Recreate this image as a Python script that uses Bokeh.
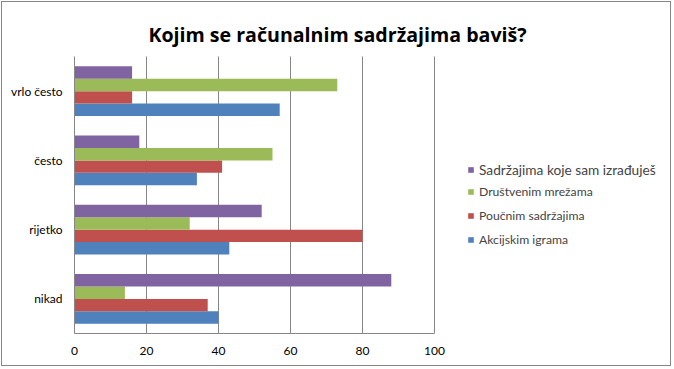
from bokeh.plotting import figure
from bokeh.models import (Range1d, Legend, LegendItem, Label, Grid,
                          FixedTicker, ColumnDataSource)
from bokeh.transform import dodge
from bokeh.embed import file_html
from bokeh.resources import INLINE

categories = ["nikad", "rijetko", "često", "vrlo često"]
akcijskim_igrama = [40, 43, 34, 57]
poucnim_sadrzajima = [37, 80, 41, 16]
drustvenim_mrezama = [14, 32, 55, 73]
sadrzajima_izradujes = [88, 52, 18, 16]
series_names = ["Akcijskim igrama", "Poučnim sadržajima", "Društvenim mrežama",
                "Sadržajima koje sam izrađuješ"]
x_ticks = [0, 20, 40, 60, 80, 100]
title_text = "Kojim se računalnim sadržajima baviš?"

colors = ["#4F81BD", "#C0504D", "#9BBB59", "#8064A2"]
offsets = [-0.27, -0.09, 0.09, 0.27]
FONT = "Lato"
GRAY = "#868686"

n = len(categories)
ypos = [i + 0.5 for i in range(n)]
src = ColumnDataSource(dict(y=ypos, s0=akcijskim_igrama, s1=poucnim_sadrzajima,
                            s2=drustvenim_mrezama, s3=sadrzajima_izradujes))

# frame: page x 74..672, page y 2..333 ; 3.6 px per unit, 69.25 px per category
p = figure(width=670, height=365, x_range=Range1d(0, 598 / 3.6),
           y_range=Range1d(0, 331 / 69.25), output_backend="svg",
           toolbar_location=None, min_border_left=72, min_border_right=0,
           min_border_top=0, min_border_bottom=34)
p.styles = {"border": "1px solid " + GRAY, "margin": "1px"}

renderers = []
for i in range(4):
    r = p.hbar(y=dodge("y", offsets[i]), right="s%d" % i, left=0,
               height=0.18, source=src, fill_color=colors[i], line_color=None)
    renderers.append(r)

p.outline_line_color = None
p.ygrid.grid_line_color = None
p.xgrid.grid_line_color = GRAY
p.xgrid.ticker = FixedTicker(ticks=x_ticks)
if "cross_bounds" in Grid.properties():
    p.xgrid.cross_bounds = (0, n)
else:
    p.xgrid.grid_line_color = None
    p.segment(x0=x_ticks, x1=x_ticks, y0=[0] * len(x_ticks), y1=[n] * len(x_ticks),
              line_color=GRAY, line_width=1)

p.xaxis.ticker = FixedTicker(ticks=x_ticks)
p.xaxis.bounds = (0, 100)
p.yaxis.ticker = FixedTicker(ticks=ypos)
p.yaxis.bounds = (0, n)
p.yaxis.major_label_overrides = {y: c for y, c in zip(ypos, categories)}
for ax in (p.xaxis, p.yaxis):
    ax.axis_line_color = GRAY
    ax.major_tick_line_color = None
    ax.minor_tick_line_color = None
    ax.major_tick_out = 0
    ax.major_tick_in = 0
    ax.major_label_text_font = FONT
    ax.major_label_text_color = "black"
p.xaxis.major_label_text_font_size = "12px"
p.yaxis.major_label_text_font_size = "12px"
p.yaxis.major_label_standoff = 12
p.xaxis.major_label_standoff = 13

leg1 = Legend(items=[LegendItem(label=series_names[3], renderers=[renderers[3]])],
              location=(393, 155), glyph_width=7, glyph_height=7, label_standoff=5,
              padding=0, margin=0, border_line_color=None, background_fill_alpha=0,
              label_text_font=FONT, label_text_font_size="13.7px", label_height=16)
leg2 = Legend(items=[LegendItem(label=series_names[j], renderers=[renderers[j]]) for j in (2, 1, 0)],
              location=(393, 86), glyph_width=7, glyph_height=7, label_standoff=5,
              padding=0, margin=0, spacing=9, border_line_color=None,
              background_fill_alpha=0, label_text_font=FONT,
              label_text_font_size="12.2px", label_height=12)
p.add_layout(leg1)
p.add_layout(leg2)

p.add_layout(Label(x=263, y=299.5, x_units="screen", y_units="screen", text=title_text,
                   text_align="center", text_baseline="alphabetic", text_font="Open Sans",
                   text_font_style="bold", text_font_size="19.6px", text_color="black"))

open("out.html", "w").write(file_html(p, INLINE))
